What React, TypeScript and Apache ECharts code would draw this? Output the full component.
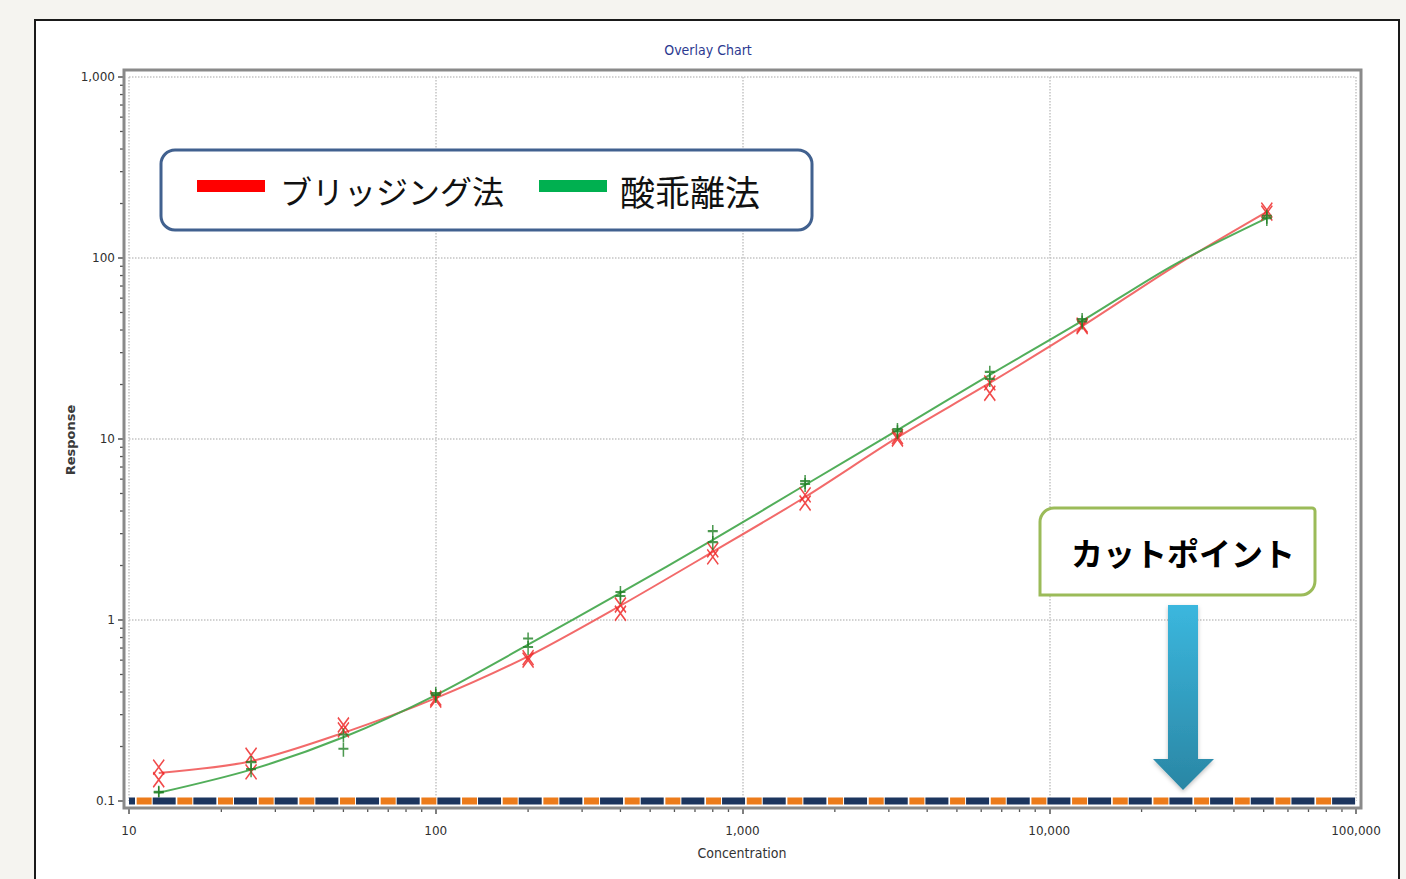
import React, { useEffect, useRef } from "react";
import * as echarts from "echarts";

// ---- data ----
const conc = [12.5, 25, 50, 100, 200, 400, 800, 1600, 3200, 6400, 12800, 51200];
const bridgingRep1 = [0.154, 0.179, 0.263, 0.361, 0.62, 1.21, 2.44, 4.91, 10.3, 20.4, 42.6, 184];
const bridgingRep2 = [0.131, 0.145, 0.247, 0.37, 0.6, 1.09, 2.23, 4.43, 10.0, 17.9, 41.8, 177];
const acidRep1 = [0.111, 0.162, 0.23, 0.38, 0.78, 1.41, 3.06, 5.78, 11.2, 23.2, 45.4, 169];
const acidRep2 = [0.11, 0.148, 0.192, 0.39, 0.7, 1.34, 2.66, 5.57, 10.9, 21.2, 44.0, 164];

const curveConc = [12.5, 25, 50, 100, 200, 400, 800, 1600, 3200, 6400, 12800, 25600, 51200];
const bridgingCurve = [0.143, 0.166, 0.238, 0.37, 0.63, 1.2, 2.38, 4.78, 10.2, 20.4, 42, 90, 180];
const acidCurve = [0.111, 0.149, 0.225, 0.385, 0.73, 1.41, 2.77, 5.57, 11.2, 22.6, 44.9, 92, 166];

const cutoffLevel = 0.1;
const xRange = [10, 100000];
const yRange = [0.1, 1000];

const xMinorTicks = [
  20, 30, 40, 50, 60, 70, 80, 90,
  200, 300, 400, 500, 600, 700, 800, 900,
  2000, 3000, 4000, 5000, 6000, 7000, 8000, 9000,
  20000, 30000, 40000, 50000, 60000, 70000, 80000, 90000,
];
const yMinorTicks = [
  0.2, 0.3, 0.4, 0.5, 0.6, 0.7, 0.8, 0.9,
  2, 3, 4, 5, 6, 7, 8, 9,
  20, 30, 40, 50, 60, 70, 80, 90,
  200, 300, 400, 500, 600, 700, 800, 900,
];

const titleText = "Overlay Chart";
const xName = "Concentration";
const yName = "Response";
const seriesNames = ["ブリッジング法", "酸乖離法"];
const cutLabel = "カットポイント";

const RED = "#f05050";
const RED_MK = "#ee2a2a";
const GREEN = "#3fa548";
const GREEN_MK = "#1f7f24";

const fmt = (v: number) => Number(Number(v).toPrecision(6)).toLocaleString("en-US");

export default function App() {
  const ref = useRef<HTMLDivElement>(null);
  useEffect(() => {
    document.body.style.margin = "0";
    const chart = echarts.init(ref.current!, undefined, { renderer: "svg" });
    const gridLeft = 129;
    const gridTop = 77;
    const gridW = 1227;
    const gridH = 724;

    const xSymbol = "path://M0,0L10,14M10,0L0,14";
    const plusSymbol = "path://M5,0L5,14M0,6L10,6";

    const T = 40.67;
    const labelStyle = {
      color: "#2f2f2f",
      fontSize: 12,
      fontFamily: "DejaVu Sans",
      formatter: (v: number) => fmt(v),
    };
    const option: any = {
      animation: false,
      backgroundColor: "#f5f4f0",
      grid: { left: gridLeft, top: gridTop, width: gridW, height: gridH },
      xAxis: {
        type: "log",
        logBase: 10,
        min: xRange[0],
        max: xRange[1],
        offset: 7,
        axisLine: { show: false },
        axisTick: { show: true, length: 6, lineStyle: { color: "#555", width: 1.5 } },
        axisLabel: { margin: 17, ...labelStyle },
        splitLine: { show: true, lineStyle: { color: "#c4c4c4", type: "dotted", width: 1.5 } },
      },
      yAxis: {
        type: "log",
        logBase: 10,
        min: yRange[0],
        max: yRange[1],
        offset: 5,
        axisLine: { show: false },
        axisTick: { show: true, length: 6, lineStyle: { color: "#555", width: 1.5 } },
        axisLabel: { margin: 9, ...labelStyle },
        splitLine: { show: true, lineStyle: { color: "#c4c4c4", type: "dotted", width: 1.5 } },
      },
      series: [
        {
          type: "custom",
          silent: true,
          clip: false,
          data: xMinorTicks.map((v) => [v, yRange[0]]),
          renderItem: (params: any, api: any) => {
            const p = api.coord([api.value(0), api.value(1)]);
            return {
              type: "line",
              shape: { x1: p[0], y1: p[1] + 7, x2: p[0], y2: p[1] + 11 },
              style: { stroke: "#555", lineWidth: 1.3 },
            };
          },
        },
        {
          type: "custom",
          silent: true,
          clip: false,
          data: yMinorTicks.map((v) => [xRange[0], v]),
          renderItem: (params: any, api: any) => {
            const p = api.coord([api.value(0), api.value(1)]);
            return {
              type: "line",
              shape: { x1: p[0] - 9, y1: p[1], x2: p[0] - 5, y2: p[1] },
              style: { stroke: "#555", lineWidth: 1.3 },
            };
          },
        },
        {
          name: seriesNames[0],
          type: "line",
          smooth: 0.3,
          showSymbol: false,
          data: curveConc.map((c, i) => [c, bridgingCurve[i]]),
          lineStyle: { color: RED, width: 2, opacity: 0.85 },
          z: 3,
        },
        {
          name: seriesNames[1],
          type: "line",
          smooth: 0.3,
          showSymbol: false,
          data: curveConc.map((c, i) => [c, acidCurve[i]]),
          lineStyle: { color: GREEN, width: 2, opacity: 0.9 },
          z: 3,
        },
        {
          type: "scatter",
          symbol: xSymbol,
          symbolSize: [11, 15],
          data: conc.map((c, i) => [c, bridgingRep1[i]]).concat(conc.map((c, i) => [c, bridgingRep2[i]])),
          itemStyle: { color: "rgba(0,0,0,0)", borderColor: RED_MK, borderWidth: 1.6, opacity: 0.85 },
          z: 4,
        },
        {
          type: "scatter",
          symbol: plusSymbol,
          symbolSize: [10, 14],
          data: conc.map((c, i) => [c, acidRep1[i]]).concat(conc.map((c, i) => [c, acidRep2[i]])),
          itemStyle: { color: "rgba(0,0,0,0)", borderColor: GREEN_MK, borderWidth: 1.8 },
          z: 5,
        },
        // cut-point line at y = 0.1 (orange / navy dashes)
        {
          type: "line",
          clip: false,
          showSymbol: false,
          silent: true,
          data: [[xRange[0], cutoffLevel], [xRange[1], cutoffLevel]],
          lineStyle: { color: "#ffffff", width: 7, cap: "butt" },
          z: 6,
        },
        {
          type: "line",
          clip: false,
          showSymbol: false,
          silent: true,
          data: [[xRange[0], cutoffLevel], [xRange[1], cutoffLevel]],
          lineStyle: { color: "#ec7b1a", width: 7, type: [15, T - 15], dashOffset: T - 7.3, cap: "butt" },
          z: 7,
        },
        {
          type: "line",
          clip: false,
          showSymbol: false,
          silent: true,
          data: [[xRange[0], cutoffLevel], [xRange[1], cutoffLevel]],
          lineStyle: { color: "#1c355e", width: 7, type: [23, T - 23], dashOffset: T - 23.7, cap: "butt" },
          z: 8,
        },
      ],
      graphic: [
        {
          type: "rect",
          z: -1,
          silent: true,
          shape: { x: 35, y: 20, width: 1364, height: 900 },
          style: { fill: "#ffffff", stroke: "#1a1a1a", lineWidth: 2 },
        },
        {
          type: "rect",
          z: 20,
          silent: true,
          shape: { x: 124, y: 70, width: 1237, height: 738 },
          style: { fill: "none", stroke: "#8a8a8a", lineWidth: 3 },
        },
        {
          type: "text",
          z: 20,
          x: 708,
          y: 50,
          style: {
            text: titleText,
            fill: "#2b3990",
            font: "14px 'DejaVu Sans Condensed', 'DejaVu Sans', sans-serif",
            align: "center",
            verticalAlign: "middle",
          },
        },
        {
          type: "text",
          z: 20,
          x: 742,
          y: 853,
          style: {
            text: xName,
            fill: "#333333",
            font: "14px 'DejaVu Sans Condensed', 'DejaVu Sans', sans-serif",
            align: "center",
            verticalAlign: "middle",
          },
        },
        {
          type: "text",
          z: 20,
          x: 70,
          y: 440,
          rotation: Math.PI / 2,
          style: {
            text: yName,
            fill: "#3a3a3a",
            font: "bold 13px 'DejaVu Sans', sans-serif",
            align: "center",
            verticalAlign: "middle",
          },
        },
        // legend box
        {
          type: "rect",
          z: 30,
          shape: { x: 161, y: 150, width: 651, height: 80, r: 14 },
          style: { fill: "#ffffff", stroke: "#41618f", lineWidth: 3 },
        },
        {
          type: "rect",
          z: 31,
          shape: { x: 197, y: 180, width: 68, height: 12 },
          style: { fill: "#ff0000" },
        },
        {
          type: "text",
          z: 31,
          x: 280,
          y: 190,
          style: {
            text: seriesNames[0],
            fill: "#111111",
            font: "32px 'Noto Sans CJK JP', sans-serif",
            align: "left",
            verticalAlign: "middle",
          },
        },
        {
          type: "rect",
          z: 31,
          shape: { x: 539, y: 180, width: 68, height: 12 },
          style: { fill: "#00b050" },
        },
        {
          type: "text",
          z: 31,
          x: 620,
          y: 190,
          style: {
            text: seriesNames[1],
            fill: "#111111",
            font: "35px 'Noto Sans CJK JP', sans-serif",
            align: "left",
            verticalAlign: "middle",
          },
        },
        // cut point box
        {
          type: "rect",
          z: 30,
          shape: { x: 1040, y: 508, width: 275, height: 87, r: [14, 3, 14, 0] },
          style: { fill: "#ffffff", stroke: "#9bbb59", lineWidth: 3 },
        },
        {
          type: "text",
          z: 31,
          x: 1183,
          y: 552,
          style: {
            text: cutLabel,
            fill: "#000000",
            font: "bold 32px 'Noto Sans CJK JP', sans-serif",
            align: "center",
            verticalAlign: "middle",
          },
        },
        // arrow
        {
          type: "polygon",
          z: 30,
          shape: {
            points: [
              [1168, 605],
              [1198, 605],
              [1198, 759],
              [1214, 759],
              [1183, 790],
              [1153, 759],
              [1168, 759],
            ],
          },
          style: {
            fill: new echarts.graphic.LinearGradient(0, 0, 0, 1, [
              { offset: 0, color: "#3bb7de" },
              { offset: 1, color: "#2a86a4" },
            ]),
            shadowBlur: 4,
            shadowColor: "rgba(0,0,0,0.25)",
            shadowOffsetY: 2,
          },
        },
      ],
    };
    chart.setOption(option);
    return () => chart.dispose();
  }, []);
  return <div ref={ref} style={{ width: 1406, height: 879 }} />;
}
